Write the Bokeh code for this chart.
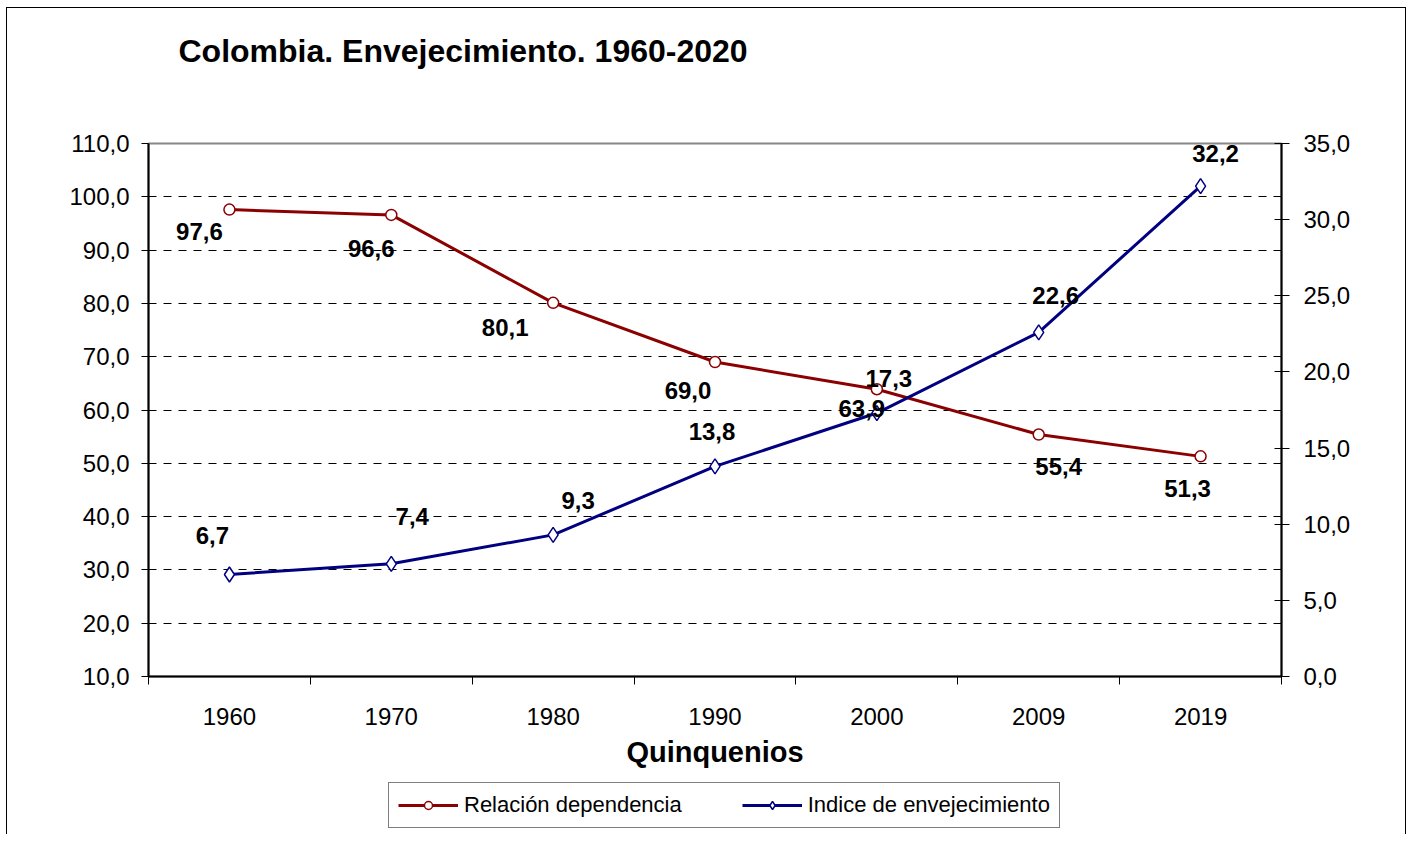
from bokeh.plotting import figure
from bokeh.layouts import column
from bokeh.models import (Range1d, LinearAxis, FixedTicker, ColumnDataSource, LabelSet,
                          Legend, LegendItem, Grid)
from bokeh.core.properties import value
from bokeh.embed import file_html
from bokeh.resources import INLINE

years = ["1960", "1970", "1980", "1990", "2000", "2009", "2019"]
relacion_dependencia = [97.6, 96.6, 80.1, 69.0, 63.9, 55.4, 51.3]
indice_envejecimiento = [6.7, 7.4, 9.3, 13.8, 17.3, 22.6, 32.2]
left_ticks = [10, 20, 30, 40, 50, 60, 70, 80, 90, 100, 110]
right_ticks = [0, 5, 10, 15, 20, 25, 30, 35]

# label offsets in screen pixels (dx right, dy up)
red_dx = [-30, -20, -48, -27, -15, 20, -13]
red_dy = [-22, -34, -25, -28, -19, -32, -32]
blue_dx = [-17, 21, 25, -3, 12, 17, 15]
blue_dy = [39, 47, 34, 35, 35, 37, 33]

FONT = "Liberation Sans"
RED = "#8B0000"
BLUE = "#000080"

def fmt(v):
    return f"{v:.1f}".replace(".", ",")

xs = [i + 0.5 for i in range(len(years))]

p = figure(frame_width=1133, frame_height=533, output_backend="svg", toolbar_location=None,
           x_range=Range1d(0, len(years)), y_range=Range1d(10, 110),
           min_border_left=141, min_border_top=135, min_border_right=124, min_border_bottom=104,
           x_axis_type=None, y_axis_type=None)
p.extra_y_ranges = {"right": Range1d(0, 35)}
p.background_fill_color = "white"
p.border_fill_color = "white"
p.outline_line_color = "#888888"
p.outline_line_width = 2

# title
p.title.text = "Colombia. Envejecimiento. 1960-2020\n \n "
p.title.text_font = FONT
p.title.text_font_style = "bold"
p.title.text_font_size = "32px"
p.title.text_line_height = 1.02
p.title.text_color = "black"
p.title.align = "left"
p.title.vertical_align = "top"
p.title.offset = 30
p.title.standoff = 0

# bottom axis
xaxis = LinearAxis(ticker=FixedTicker(ticks=xs, minor_ticks=list(range(len(years) + 1))))
xaxis.major_label_overrides = {x: y for x, y in zip(xs, years)}
xaxis.major_tick_out = 0
xaxis.major_tick_in = 0
xaxis.minor_tick_out = 8
xaxis.minor_tick_in = 0
xaxis.minor_tick_line_color = "black"
xaxis.axis_line_color = "black"
xaxis.axis_line_width = 2
xaxis.major_label_text_font = FONT
xaxis.major_label_text_font_size = "24px"
xaxis.major_label_text_color = "black"
xaxis.major_label_standoff = 23
xaxis.axis_label = "Quinquenios"
xaxis.axis_label_text_font = FONT
xaxis.axis_label_text_font_style = "bold"
xaxis.axis_label_text_font_size = "29px"
xaxis.axis_label_text_color = "black"
xaxis.axis_label_standoff = 8
p.add_layout(xaxis, "below")

# left axis
yaxis = LinearAxis(ticker=FixedTicker(ticks=left_ticks))
yaxis.major_label_overrides = {t: fmt(t) for t in left_ticks}
yaxis.major_tick_out = 7
yaxis.major_tick_in = 0
yaxis.minor_tick_line_color = None
yaxis.axis_line_color = "black"
yaxis.axis_line_width = 2
yaxis.major_label_text_font = FONT
yaxis.major_label_text_font_size = "24px"
yaxis.major_label_text_color = "black"
yaxis.major_label_standoff = 12
p.add_layout(yaxis, "left")

# right axis
raxis = LinearAxis(y_range_name="right", ticker=FixedTicker(ticks=right_ticks))
raxis.major_label_overrides = {t: fmt(t) for t in right_ticks}
raxis.major_tick_out = 8
raxis.major_tick_in = 7
raxis.minor_tick_line_color = None
raxis.axis_line_color = "black"
raxis.axis_line_width = 2
raxis.major_label_text_font = FONT
raxis.major_label_text_font_size = "24px"
raxis.major_label_text_color = "black"
raxis.major_label_standoff = 14
p.add_layout(raxis, "right")

# grid
grid = Grid(dimension=1, ticker=FixedTicker(ticks=left_ticks[1:-1]))
grid.grid_line_color = "black"
grid.grid_line_dash = "8 7"
grid.grid_line_width = 1
p.add_layout(grid)

red_src = ColumnDataSource(dict(x=xs, y=relacion_dependencia,
                                t=[fmt(v) for v in relacion_dependencia], dx=red_dx, dy=red_dy))
blue_src = ColumnDataSource(dict(x=xs, y=indice_envejecimiento,
                                 t=[fmt(v) for v in indice_envejecimiento], dx=blue_dx, dy=blue_dy))

line_red = dict(line_color=RED, line_width=3)
mark_red = dict(marker="circle", size=11, line_color=RED, fill_color="white", line_width=1.5)
line_blue = dict(line_color=BLUE, line_width=3)
mark_blue = dict(marker="diamond", size=15, line_color=BLUE, fill_color="white", line_width=1.5)

p.line("x", "y", source=red_src, **line_red)
p.scatter("x", "y", source=red_src, **mark_red)
p.line("x", "y", source=blue_src, y_range_name="right", **line_blue)
p.scatter("x", "y", source=blue_src, y_range_name="right", **mark_blue)

for src, rng in ((red_src, "default"), (blue_src, "right")):
    ls = LabelSet(x="x", y="y", text="t", source=src, x_offset="dx", y_offset="dy",
                  text_font=value(FONT), text_font_style="bold", text_font_size="24px",
                  text_color="black", text_align="center", text_baseline="middle",
                  y_range_name=rng)
    p.add_layout(ls)

# legend strip (separate figure below the chart; its series renderers use the same
# sources but fall outside this strip's y range, so only the legend shows)
lf = figure(width=1398, height=54, output_backend="svg", toolbar_location=None,
            x_range=Range1d(0, 1), y_range=Range1d(-2, -1), min_border=0,
            x_axis_type=None, y_axis_type=None)
lf.outline_line_color = None
lf.background_fill_color = "white"
lf.border_fill_color = "white"
lr1 = lf.line("x", "y", source=red_src, **line_red)
lr1m = lf.scatter("x", "y", source=red_src, **mark_red)
lr2 = lf.line("x", "y", source=blue_src, **line_blue)
lr2m = lf.scatter("x", "y", source=blue_src, **mark_blue)

legend = Legend(items=[LegendItem(label="Relación dependencia", renderers=[lr1, lr1m]),
                       LegendItem(label="Indice de envejecimiento", renderers=[lr2, lr2m])],
                orientation="horizontal", location=(240, 6))
legend.label_text_font = FONT
legend.label_text_font_size = "22px"
legend.label_text_color = "black"
legend.border_line_color = "black"
legend.border_line_width = 1
legend.glyph_width = 60
legend.label_standoff = 6
legend.spacing = 60
legend.padding = 9
legend.margin = 0
legend.background_fill_alpha = 1
lf.add_layout(legend, "center")

layout = column(p, lf, spacing=0,
                styles={"border-top": "1px solid black", "border-left": "1px solid black",
                        "border-right": "1px solid black", "margin-left": "6px",
                        "margin-top": "7px"})

open("out.html", "w").write(file_html(layout, INLINE))
